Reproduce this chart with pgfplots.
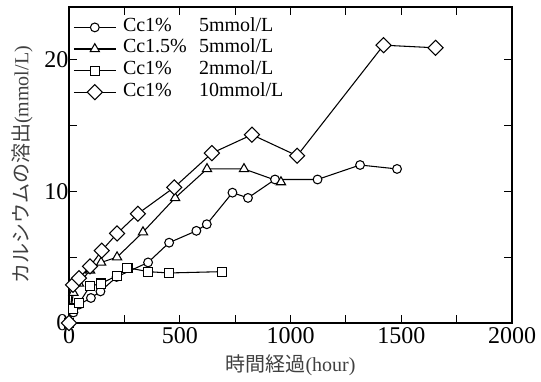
\documentclass[border=0pt]{standalone}
\usepackage{pgfplots}
\pgfplotsset{compat=1.18}
\usepackage{fontspec}
\setmainfont{Liberation Serif}
\newfontfamily\cjk{Noto Sans CJK JP}

\begin{document}
\begin{tikzpicture}
\begin{axis}[
  width=332.25pt, height=237pt, scale only axis,
  xmin=0, xmax=2000, ymin=0, ymax=24,
  xtick={0,500,1000,1500,2000},
  minor xtick={250,750,1250,1750},
  ytick={0,10,20}, minor ytick={5,15},
  tick align=inside, tick pos=both,
  major tick length=6pt, minor tick length=6pt,
  tick style={black, line width=0.6pt},
  axis line style={line width=0.8pt},
  /pgf/number format/assume math mode=true,
  /pgf/number format/set thousands separator={},
  ticklabel style={font=\fontsize{18}{18}\selectfont},
  yticklabel style={xshift=3pt},
  xlabel={{\cjk 時間経過}(hour)},
  ylabel={{\cjk カルシウムの溶出}(mmol/L)},
  label style={font=\fontsize{15}{15}\selectfont, text=black!75},
  xlabel style={at={(axis description cs:0.5,-0.133)}, anchor=center},
  ylabel style={at={(axis description cs:-0.106,0.5)}, anchor=center},
  clip=false,
  legend style={at={(axis description cs:0,1)}, anchor=north west, yshift=-7pt,
    draw=none, fill=none, inner xsep=3pt, inner ysep=0pt,
    font=\fontsize{15}{15}\selectfont,
    nodes={inner ysep=0pt, inner xsep=2pt, text height=11pt, text depth=5.2pt}},
  legend cell align=left,
  legend image code/.code={\draw[mark repeat=2,mark phase=2,#1] plot coordinates {(0pt,0pt)(15.75pt,0pt)(31.5pt,0pt)};},
]
\coordinate (SW) at (rel axis cs:0,0);
\coordinate (NE) at (rel axis cs:1,1);

\addplot[black, line width=0.8pt, mark=*, mark size=3.3pt, mark options={fill=white, solid}] coordinates {
(0,0) (20,0.8) (45,1.4) (99,1.9) (142,2.4) (215,3.5) (357,4.6) (452,6.1) (575,7.0) (622,7.5) (738,9.9) (808,9.5) (930,10.9) (1122,10.9) (1314,12.0) (1481,11.7)};
\addlegendentry{\hspace*{3pt}\makebox[57pt][l]{Cc1\%}5mmol/L}

\addplot[black, line width=0.8pt, mark=triangle*, mark size=4pt, mark options={fill=white, solid}] coordinates {
(0,0) (20,2.3) (45,3.0) (95,4.0) (145,4.6) (217,5.0) (334,6.9) (479,9.5) (623,11.7) (790,11.7) (957,10.7)};
\addlegendentry{\hspace*{3pt}\makebox[57pt][l]{Cc1.5\%}5mmol/L}

\addplot[black, line width=0.8pt, mark=square*, mark size=3.4pt, mark options={fill=white, solid}] coordinates {
(0,0) (20,1.1) (45,1.5) (95,2.8) (145,3.0) (217,3.6) (264,4.2) (357,3.9) (452,3.8) (691,3.9)};
\addlegendentry{\hspace*{3pt}\makebox[57pt][l]{Cc1\%}2mmol/L}

\addplot[black, line width=0.8pt, mark=square*, mark size=4pt, mark options={fill=white, solid, rotate=45}] coordinates {
(0,0) (18,2.9) (45,3.4) (95,4.3) (148,5.5) (217,6.8) (311,8.3) (475,10.3) (645,12.9) (826,14.3) (1030,12.7) (1420,21.1) (1655,20.9)};
\addlegendentry{\hspace*{3pt}\makebox[57pt][l]{Cc1\%}10mmol/L}
\end{axis}
\pgfresetboundingbox
\path ([shift={(-51.75pt,-43.5pt)}]SW) rectangle ([shift={(21.75pt,5.25pt)}]NE);
\end{tikzpicture}
\end{document}
